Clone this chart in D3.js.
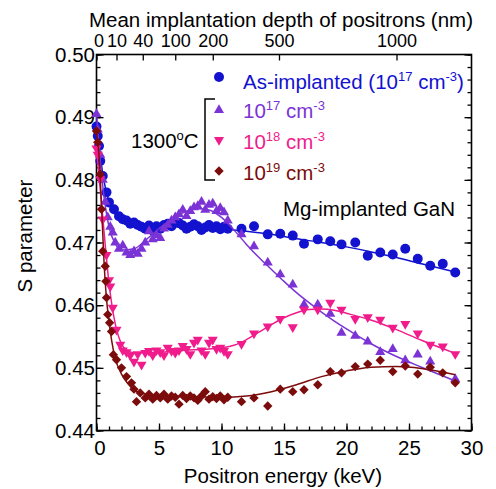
<!DOCTYPE html>
<html>
<head>
<meta charset="utf-8">
<script src="https://cdn.jsdelivr.net/npm/d3@7"></script>
<style>
body { margin: 0; background: #fff; }
text { font-family: "Liberation Sans", Arial, sans-serif; }
</style>
</head>
<body>
<svg id="chart" width="496" height="489"></svg>
<script>
var asImplanted = [
  [0,0.4885],[0.1,0.4870],[0.2,0.4854],[0.3,0.4830],[0.5,0.4806],[0.8,0.4780],[1.0,0.4764],
  [1.4,0.4753],[1.8,0.4742],[2.1,0.4737],[2.4,0.4735],[2.7,0.4730],[3.0,0.4732],[3.3,0.4728],
  [3.6,0.4725],[3.9,0.4722],[4.2,0.4727],[4.5,0.4719],[4.8,0.4726],[5.1,0.4722],[5.4,0.4728],
  [5.7,0.4730],[6.0,0.4726],[6.3,0.4733],[6.6,0.4731],[6.9,0.4727],[7.2,0.4722],[7.5,0.4725],
  [7.8,0.4729],[8.1,0.4726],[8.4,0.4720],[8.7,0.4724],[9.0,0.4728],[9.3,0.4723],[9.6,0.4726],
  [9.9,0.4721],[10.2,0.4725],[10.5,0.4722],[11.6,0.4722],[12.6,0.4726],[13.7,0.4713],
  [14.7,0.4714],[15.7,0.4711],[16.6,0.4698],[17.7,0.4705],[18.7,0.4702],[19.6,0.4697],
  [20.7,0.4700],[21.7,0.4679],[22.7,0.4684],[23.7,0.4681],[24.7,0.4690],[25.7,0.4674],
  [26.7,0.4663],[27.7,0.4666],[28.7,0.4652]
];
var dose17 = [
  [0,0.4905],[0.1,0.4880],[0.3,0.4840],[0.5,0.4800],[0.7,0.4765],[0.9,0.4740],[1.1,0.4725],
  [1.3,0.4716],[1.5,0.4700],[1.8,0.4690],[2.1,0.4695],[2.4,0.4684],[2.7,0.4680],[3.0,0.4686],
  [3.3,0.4682],[3.6,0.4690],[3.9,0.4700],[4.2,0.4718],[4.5,0.4705],[4.8,0.4712],[5.1,0.4707],
  [5.4,0.4722],[5.7,0.4728],[6.0,0.4735],[6.3,0.4740],[6.6,0.4745],[6.9,0.4752],[7.2,0.4742],
  [7.5,0.4750],[7.8,0.4756],[8.1,0.4758],[8.4,0.4765],[8.7,0.4752],[9.0,0.4760],[9.3,0.4762],
  [9.6,0.4750],[9.9,0.4755],[10.2,0.4748],[10.5,0.4735],[11.6,0.4713],[12.6,0.4694],
  [13.7,0.4668],[14.7,0.4649],[15.7,0.4633],[16.6,0.4601],[17.7,0.4601],[18.7,0.4586],
  [19.6,0.4556],[20.7,0.4551],[21.7,0.4542],[22.7,0.4525],[23.7,0.4530],[24.7,0.4512],
  [25.7,0.4521],[26.7,0.4510],[28.7,0.4482]
];
var dose18 = [
  [0,0.4850],[0.1,0.4840],[0.3,0.4801],[0.5,0.4737],[0.8,0.4680],[1.0,0.4640],[1.1,0.4630],
  [1.3,0.4596],[1.6,0.4561],[1.9,0.4537],[2.1,0.4528],[2.4,0.4525],[2.7,0.4520],[3.0,0.4510],
  [3.3,0.4522],[3.6,0.4505],[3.9,0.4524],[4.2,0.4527],[4.5,0.4520],[4.8,0.4528],[5.1,0.4525],
  [5.4,0.4520],[5.7,0.4532],[6.0,0.4527],[6.3,0.4524],[6.6,0.4528],[6.9,0.4535],[7.2,0.4530],
  [7.5,0.4522],[7.8,0.4540],[8.1,0.4545],[8.4,0.4528],[8.7,0.4522],[9.0,0.4540],[9.3,0.4545],
  [9.6,0.4530],[9.9,0.4532],[10.2,0.4527],[10.5,0.4522],[11.6,0.4538],[12.6,0.4555],
  [13.7,0.4566],[14.7,0.4578],[15.7,0.4565],[16.6,0.4593],[17.7,0.4593],[18.7,0.4604],
  [19.6,0.4593],[20.7,0.4578],[21.7,0.4581],[22.7,0.4577],[23.7,0.4564],[24.7,0.4570],
  [25.7,0.4555],[26.7,0.4537],[27.7,0.4534],[28.7,0.4522]
];
var dose19 = [
  [0,0.4878],[0.1,0.4860],[0.3,0.4809],[0.4,0.4753],[0.5,0.4686],[0.7,0.4662],[0.75,0.4638],
  [0.8,0.4612],[0.9,0.4585],[1.05,0.4572],[1.2,0.4558],[1.35,0.4521],[1.6,0.4513],[2.0,0.4500],
  [2.4,0.4486],[2.8,0.4476],[3.0,0.4466],[3.2,0.4446],[3.5,0.4460],[3.9,0.4452],[4.2,0.4458],
  [4.5,0.4450],[4.8,0.4456],[5.1,0.4452],[5.4,0.4458],[5.7,0.4450],[6.0,0.4455],[6.3,0.4453],
  [6.6,0.4442],[6.9,0.4456],[7.2,0.4451],[7.5,0.4455],[7.8,0.4452],[8.1,0.4448],[8.4,0.4455],
  [8.7,0.4462],[9.0,0.4450],[9.3,0.4454],[9.6,0.4451],[9.9,0.4455],[10.2,0.4449],[10.5,0.4453],
  [11.6,0.4446],[12.6,0.4452],[13.7,0.4439],[14.7,0.4466],[15.7,0.4462],[16.6,0.4465],
  [17.7,0.4473],[18.7,0.4494],[19.6,0.4492],[20.7,0.4502],[21.7,0.4506],[22.7,0.4512],
  [23.7,0.4494],[24.7,0.4503],[25.7,0.4490],[26.7,0.4501],[27.7,0.4492],[28.7,0.4476]
];

// fitted curves
var fitAsImplanted = [
  [0,0.4890],[0.5,0.4810],[1,0.4765],[1.5,0.4745],[2,0.4735],[3,0.4728],[4,0.4725],[6,0.4725],
  [8,0.4724],[10,0.4722],[12,0.4718],[14,0.4713],[16,0.4706],[18,0.4700],[20,0.4693],
  [22,0.4685],[24,0.4676],[26,0.4666],[28.7,0.4653]
];
var fitDose17 = [
  [0,0.4905],[0.5,0.4790],[1,0.4725],[1.5,0.4698],[2,0.4688],[3,0.4690],[4,0.4705],[5,0.4722],
  [6,0.4737],[7,0.4748],[8,0.4754],[9,0.4752],[10,0.4740],[11,0.4720],[12,0.4697],[13,0.4676],
  [14,0.4657],[15,0.4638],[16,0.4620],[17,0.4604],[18,0.4589],[19,0.4575],[20,0.4562],
  [22,0.4538],[24,0.4518],[26,0.4501],[28.7,0.4479]
];
var fitDose18 = [
  [0,0.4850],[0.5,0.4740],[1,0.4635],[1.5,0.4570],[2,0.4538],[2.5,0.4527],[3,0.4524],[5,0.4525],
  [7,0.4528],[9,0.4530],[10,0.4532],[11,0.4536],[12,0.4545],[13,0.4557],[14,0.4569],[15,0.4580],
  [16,0.4588],[17,0.4593],[18,0.4594],[19,0.4592],[20,0.4587],[22,0.4576],[24,0.4561],
  [26,0.4544],[28.7,0.4523]
];
var fitDose19 = [
  [0,0.4875],[0.2,0.4840],[0.4,0.4760],[0.6,0.4670],[0.8,0.4610],[1,0.4575],[1.2,0.4545],
  [1.5,0.4515],[2,0.4490],[2.5,0.4475],[3,0.4465],[4,0.4458],[6,0.4455],[8,0.4454],[10,0.4453],
  [12,0.4455],[14,0.4462],[16,0.4473],[18,0.4486],[20,0.4495],[22,0.4501],[24,0.4502],
  [26,0.4499],[28.7,0.4489]
];

var xTicks = [0, 5, 10, 15, 20, 25, 30];
var yTicks = [0.44, 0.45, 0.46, 0.47, 0.48, 0.49, 0.50];
var depthLabels = ['0', '10', '40', '100', '200', '500', '1000'];
var depthAtEnergy = [0, 1.6, 3.7, 6.3, 9.3, 14.6, 24.0];

var series = [
  {name: 'as', pts: asImplanted, fit: fitAsImplanted, color: '#1212cf', shape: 'circle'},
  {name: 'd17', pts: dose17, fit: fitDose17, color: '#7b33d6', shape: 'up'},
  {name: 'd18', pts: dose18, fit: fitDose18, color: '#f01c8c', shape: 'down'},
  {name: 'd19', pts: dose19, fit: fitDose19, color: '#7c0c0c', shape: 'diamond'}
];

var svg = d3.select('#chart');
var pad = {l: 96.5, r: 471.5, t: 54.5, b: 430.5};
var font = '"Liberation Sans", Arial, sans-serif';

var x = d3.scaleLinear().domain([0, 30]).range([pad.l, pad.r]);
var y = d3.scaleLinear().domain([0.44, 0.50]).range([pad.b, pad.t]);

function styleAxis(g, size) {
  g.select('.domain').remove();
  g.attr('font-family', font).attr('font-size', size);
  g.selectAll('line').attr('stroke', '#000').attr('stroke-width', 1.3);
  g.selectAll('text').attr('fill', '#000');
}
function nudgeFirst(dx) {
  return function(g) {
    g.selectAll('text').filter(function(d, i) { return i === 0; }).attr('dx', dx);
  };
}

// minor ticks
svg.append('g').attr('transform', 'translate(0,' + pad.b + ')')
  .call(d3.axisBottom(x).tickValues(d3.range(0, 31, 1)).tickSize(-4).tickFormat(''))
  .call(styleAxis, 20);
svg.append('g').attr('transform', 'translate(' + pad.l + ',0)')
  .call(d3.axisLeft(y).tickValues(d3.range(0.44, 0.5001, 0.002)).tickSize(-4).tickFormat(''))
  .call(styleAxis, 20);
svg.append('g').attr('transform', 'translate(' + pad.r + ',0)')
  .call(d3.axisRight(y).tickValues(d3.range(0.44, 0.5001, 0.002)).tickSize(-4).tickFormat(''))
  .call(styleAxis, 20);

// major ticks
svg.append('g').attr('transform', 'translate(0,' + pad.b + ')')
  .call(d3.axisBottom(x).tickValues(xTicks).tickSize(-7).tickSizeOuter(0).tickPadding(10))
  .call(styleAxis, 20.5)
  .call(nudgeFirst(3));
svg.append('g').attr('transform', 'translate(' + pad.l + ',0)')
  .call(d3.axisLeft(y).tickValues(yTicks).tickSize(-7).tickSizeOuter(0).tickPadding(1.5)
    .tickFormat(d3.format('.2f')))
  .call(styleAxis, 20.5);
svg.append('g').attr('transform', 'translate(' + pad.r + ',0)')
  .call(d3.axisRight(y).tickValues(yTicks).tickSize(-7).tickSizeOuter(0).tickFormat(''))
  .call(styleAxis, 20.5);
svg.append('g').attr('transform', 'translate(0,' + pad.t + ')')
  .call(d3.axisTop(x).tickValues(depthAtEnergy).tickSize(-6).tickSizeOuter(0).tickPadding(8)
    .tickFormat(function(d, i) { return depthLabels[i]; }))
  .call(styleAxis, 18)
  .call(nudgeFirst(2));

// frame
svg.append('rect')
  .attr('x', pad.l).attr('y', pad.t)
  .attr('width', pad.r - pad.l).attr('height', pad.b - pad.t)
  .attr('fill', 'none').attr('stroke', '#000').attr('stroke-width', 1.6);

// axis titles
svg.append('text').attr('x', 283).attr('y', 483).attr('text-anchor', 'middle')
  .attr('font-size', 20.5).text('Positron energy (keV)');
svg.append('text').attr('x', 281).attr('y', 27).attr('text-anchor', 'middle')
  .attr('font-size', 20.5).text('Mean implantation depth of positrons (nm)');
svg.append('text').attr('transform', 'translate(32,236) rotate(-90)').attr('text-anchor', 'middle')
  .attr('font-size', 20.5).text('S parameter');

function marker(shape) {
  if (shape === 'circle') return d3.symbol().type(d3.symbolCircle).size(78)();
  if (shape === 'diamond') return d3.symbol().type(d3.symbolSquare).size(44)();
  return d3.symbol().type(d3.symbolTriangle).size(44)();
}
function rot(shape) {
  if (shape === 'down') return ' rotate(180)';
  if (shape === 'diamond') return ' rotate(45)';
  return '';
}

var line = d3.line()
  .x(function(d) { return x(d[0]); })
  .y(function(d) { return y(d[1]); })
  .curve(d3.curveMonotoneX);

series.forEach(function(s) {
  var g = svg.append('g').attr('class', 'series-' + s.name);
  g.append('path').datum(s.fit)
    .attr('d', line).attr('fill', 'none')
    .attr('stroke', s.color).attr('stroke-width', 1.5);
  g.selectAll('path.pt').data(s.pts).enter().append('path')
    .attr('class', 'pt')
    .attr('d', marker(s.shape))
    .attr('transform', function(d) {
      return 'translate(' + x(d[0]) + ',' + y(d[1]) + ')' + rot(s.shape);
    })
    .attr('fill', s.color);
});

// legend
var legendRows = [
  {idx: 0, my: 77, ty: 89, parts: [['As-implanted (10', 0], ['17', 1], [' cm', 0], ['-3', 1], [')', 0]]},
  {idx: 1, my: 110, ty: 118, parts: [['10', 0], ['17', 1], [' cm', 0], ['-3', 1]]},
  {idx: 2, my: 140, ty: 149, parts: [['10', 0], ['18', 1], [' cm', 0], ['-3', 1]]},
  {idx: 3, my: 171, ty: 180, parts: [['10', 0], ['19', 1], [' cm', 0], ['-3', 1]]}
];
var lg = svg.append('g');
legendRows.forEach(function(r) {
  var s = series[r.idx];
  lg.append('path').attr('d', marker(s.shape))
    .attr('transform', 'translate(219,' + r.my + ')' + rot(s.shape))
    .attr('fill', s.color);
  var t = lg.append('text').attr('x', 243).attr('y', r.ty)
    .attr('font-size', 20.5).attr('fill', s.color);
  var up = false;
  r.parts.forEach(function(p) {
    var sp = t.append('tspan').text(p[0]);
    if (p[1] && !up) { sp.attr('dy', -8).attr('font-size', 13); up = true; }
    else if (p[1]) { sp.attr('font-size', 13); }
    else if (up) { sp.attr('dy', 8); up = false; }
  });
});

// bracket and annotations
lg.append('path')
  .attr('d', 'M215,99H205V180H215')
  .attr('fill', 'none').attr('stroke', '#000').attr('stroke-width', 1.5);
var ann = svg.append('text').attr('x', 131).attr('y', 148).attr('font-size', 20.5);
ann.append('tspan').text('1300');
ann.append('tspan').attr('dy', -8).attr('font-size', 13).text('o');
ann.append('tspan').attr('dy', 8).text('C');
svg.append('text').attr('x', 283).attr('y', 216).attr('font-size', 20.5).text('Mg-implanted GaN');
</script>
</body>
</html>
